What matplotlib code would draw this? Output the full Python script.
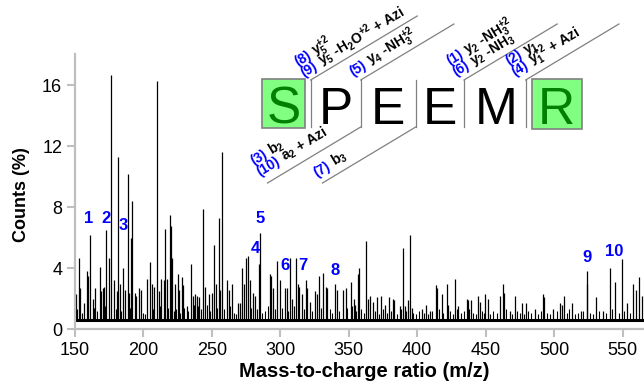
import matplotlib
matplotlib.use('Agg')
import matplotlib.pyplot as plt
import numpy as np

plt.rcParams['font.family'] = ['Liberation Sans', 'DejaVu Sans']
plt.rcParams['mathtext.fontset'] = 'custom'
plt.rcParams['mathtext.rm'] = 'Liberation Sans:bold'
plt.rcParams['mathtext.it'] = 'Liberation Sans:bold'
plt.rcParams['mathtext.bf'] = 'Liberation Sans:bold'
plt.rcParams['mathtext.default'] = 'rm'

# spectrum peaks (m/z, counts %)
peak_mz = [150.7, 153.1, 153.9, 157.0, 158.7, 159.7, 161.4, 163.1, 165.0, 168.2,
           169.4, 170.4, 171.6, 173.1, 175.3, 176.7, 178.9, 180.6, 181.8, 183.3,
           185.0, 186.9, 188.9, 189.6, 191.1, 192.0, 193.8, 195.0, 197.2, 198.4,
           203.0, 205.2, 206.6, 208.0, 210.1, 211.8, 213.2, 214.9, 216.1, 217.6,
           219.3, 220.1, 221.3, 223.5, 225.2, 226.4, 228.1, 229.3, 231.8, 234.8,
           236.5, 238.0, 239.5, 241.0, 243.4, 245.0, 248.3, 250.0, 251.5, 253.0,
           255.1, 256.3, 257.7, 260.9, 262.4, 264.6, 269.5, 270.7, 272.1, 273.8,
           275.0, 276.3, 277.9, 280.4, 281.6, 284.8, 285.3, 292.6, 293.3, 294.5,
           297.9, 299.8, 303.5, 305.0, 307.2, 308.4, 311.3, 312.8, 314.0, 315.7,
           318.6, 319.3, 321.8, 325.4, 327.2, 328.6, 331.5, 333.2, 334.4, 340.0,
           341.2, 345.5, 347.9, 351.6, 353.5, 354.4, 356.6, 357.8, 362.9, 363.7,
           365.6, 367.8, 370.3, 373.6, 376.8, 379.7, 382.2, 383.4, 387.5, 389.6,
           390.8, 393.0, 394.7, 395.9, 403.2, 406.3, 409.3, 413.5, 414.7, 417.9,
           421.5, 422.8, 427.8, 430.0, 436.1, 437.3, 439.3, 444.6, 445.8, 449.7,
           451.4, 460.4, 462.9, 463.6, 467.8, 471.4, 476.6, 479.5, 486.0, 491.6,
           492.6, 499.4, 504.3, 505.3, 507.2, 512.8, 519.6, 523.7, 524.2, 530.5,
           535.9, 540.7, 544.4, 549.3, 552.9, 557.7, 559.6, 561.9, 563.9]
peak_int = [2.3, 4.7, 2.7, 1.7, 3.8, 3.5, 6.2, 2.0, 2.7, 4.1,
            2.5, 2.7, 2.8, 6.5, 4.7, 16.7, 3.2, 2.5, 11.3, 3.0,
            4.0, 2.6, 10.2, 2.4, 6.0, 8.4, 2.4, 2.2, 2.7, 2.6,
            3.3, 4.4, 3.0, 2.8, 16.3, 2.5, 3.3, 3.2, 6.6, 3.3,
            7.5, 6.8, 4.7, 3.0, 3.6, 2.6, 3.4, 2.9, 1.5, 4.3,
            2.2, 2.3, 2.2, 2.1, 7.9, 2.8, 2.3, 2.4, 5.5, 3.0,
            7.3, 2.6, 11.6, 3.2, 2.6, 3.0, 1.7, 1.7, 4.0, 3.0,
            4.7, 4.8, 3.2, 2.4, 2.2, 4.3, 6.3, 3.6, 3.5, 2.7,
            4.5, 3.2, 2.7, 2.7, 4.7, 2.0, 4.7, 3.0, 2.8, 2.3,
            3.2, 2.7, 1.8, 2.5, 2.3, 3.5, 3.7, 2.8, 2.7, 3.0,
            2.6, 2.6, 2.7, 3.1, 2.0, 1.6, 3.6, 4.0, 5.8, 2.0,
            2.2, 1.8, 2.1, 2.2, 1.6, 2.1, 2.0, 1.9, 1.5, 5.3,
            1.5, 1.9, 6.2, 1.4, 1.3, 1.6, 1.2, 2.9, 2.7, 2.3,
            3.0, 1.6, 3.3, 1.5, 2.0, 1.9, 1.9, 2.2, 1.8, 2.3,
            2.0, 2.2, 3.0, 2.4, 1.2, 2.2, 1.7, 1.7, 1.3, 2.3,
            2.1, 1.3, 1.7, 1.6, 2.2, 1.7, 1.2, 3.0, 3.8, 2.1,
            1.2, 4.0, 3.1, 4.6, 1.7, 3.0, 2.6, 3.4, 2.2]

# small noise peaks along the baseline
noise_mz = [152.0, 155.5, 164.0, 166.5, 172.0, 180.0, 184.0, 190.0, 199.5, 201.5,
            207.5, 212.5, 218.0, 222.5, 224.0, 227.0, 230.0, 233.0, 237.0, 240.0,
            242.0, 246.5, 249.0, 254.0, 259.0, 263.0, 266.0, 268.0, 271.0, 279.0,
            283.0, 287.0, 289.0, 291.0, 296.0, 301.0, 306.0, 310.0, 317.0, 323.0,
            330.0, 336.0, 338.0, 343.0, 349.0, 352.5, 355.5, 359.0, 361.0, 369.0,
            372.0, 375.0, 378.0, 381.0, 385.0, 388.5, 392.0, 397.0, 399.0, 401.0,
            405.0, 408.0, 411.0, 416.0, 419.0, 424.0, 426.0, 429.0, 432.0, 434.0,
            438.0, 441.0, 443.0, 447.0, 448.5, 453.0, 455.0, 458.0, 465.0, 469.0,
            473.0, 475.0, 478.0, 481.0, 483.0, 488.0, 490.0, 495.0, 497.0, 502.0,
            509.0, 511.0, 515.0, 517.0, 521.0, 526.0, 528.0, 533.0, 538.0, 542.0,
            547.0, 551.0, 555.0]
noise_int = [1.3, 1.1, 1.4, 1.2, 1.5, 1.3, 1.2, 1.4, 1.1, 1.0,
             1.3, 1.5, 1.4, 1.2, 1.3, 1.1, 1.4, 1.2, 1.6, 1.5,
             1.3, 1.6, 1.2, 1.4, 1.3, 1.5, 1.1, 1.0, 1.2, 1.4,
             1.3, 1.1, 1.2, 1.5, 1.3, 1.4, 1.2, 1.5, 1.3, 1.2,
             1.4, 1.3, 1.1, 1.2, 1.4, 1.5, 1.2, 1.3, 1.1, 1.2,
             1.0, 1.3, 1.1, 1.2, 1.0, 1.3, 1.2, 1.1, 1.0, 1.2,
             1.1, 1.0, 1.2, 1.3, 1.1, 1.2, 1.0, 1.3, 1.1, 1.2,
             1.3, 1.1, 1.0, 1.2, 1.1, 1.0, 1.2, 1.1, 1.3, 1.0,
             1.2, 1.1, 1.0, 1.2, 1.1, 1.0, 1.2, 1.1, 1.0, 1.2,
             1.1, 1.3, 1.0, 1.1, 1.2, 1.1, 1.0, 1.2, 1.1, 1.3,
             1.1, 1.2, 1.1]
baseline = 0.62

# numbered fragment peaks
label_text = ['1', '2', '3', '4', '5', '6', '7', '8', '9', '10']
label_mz = [160.4, 172.8, 185.2, 281.9, 285.6, 303.8, 316.2, 340.3, 524.2, 544.0]
label_h = [7.28, 7.28, 6.8, 5.31, 7.28, 4.2, 4.2, 3.87, 4.72, 5.1]

xticks = [150, 200, 250, 300, 350, 400, 450, 500, 550]
yticks = [0, 4, 8, 12, 16]

# peptide sequence and fragment annotations
sequence = ['S', 'P', 'E', 'E', 'M', 'R']
modified = [True, False, False, False, False, True]
top_groups = [
    [('(9)', r'y$_5$ -H$_2$O$^{+2}$ + Azi'), ('(8)', r'y$_5^{+2}$')],
    [('(5)', r'y$_4$ -NH$_3^{+2}$')],
    [('(6)', r'y$_2$ -NH$_3$'), ('(1)', r'y$_2$ -NH$_3^{+2}$')],
    [('(4)', r'y$_1^{+2}$ + Azi'), ('(2)', r'y$_1$')],
]
bottom_groups = [
    [('(10)', r'a$_2$ + Azi'), ('(3)', r'b$_2$')],
    [('(7)', r'b$_3$')],
]

fig = plt.figure(figsize=(6.44, 3.85), dpi=100)
ax = fig.add_axes([74.7 / 644, (385 - 329.3) / 385, (644 - 74.7) / 644, (329.3 - 54) / 385])

ax.vlines(noise_mz, baseline, noise_int, color='black', lw=0.8)
ax.vlines(peak_mz, baseline, peak_int, color='black', lw=0.9)
ax.plot([150, 566], [baseline, baseline], color='black', lw=2.2)

for t, m, h in zip(label_text, label_mz, label_h):
    ax.text(m, h, t, color='#0000ff', fontsize=12, fontweight='bold',
            ha='center', va='center')

ax.set_xlim(150, 565.5)
ax.set_ylim(0, 18.05)
ax.set_xticks(xticks)
ax.set_yticks(yticks)
for s in ['top', 'right']:
    ax.spines[s].set_visible(False)
for s in ['left', 'bottom']:
    ax.spines[s].set_color('#bfbfbf')
    ax.spines[s].set_linewidth(1.6)
ax.tick_params(direction='out', length=6, width=1.5, color='#bfbfbf',
               labelsize=13, labelcolor='black', pad=3)
ax.set_xlabel('Mass-to-charge ratio (m/z)', fontsize=14.5, fontweight='bold')
ax.set_ylabel('Counts (%)', fontsize=13, fontweight='bold')
ax.xaxis.set_label_coords(0.508, -0.155)
ax.xaxis.label.set_va('center')
ax.yaxis.set_label_coords(-0.0926, 0.488)
ax.yaxis.label.set_va('center')

# overlay in pixel units (y down) for the sequence diagram
ov = fig.add_axes([0, 0, 1, 1])
ov.set_xlim(0, 644)
ov.set_ylim(385, 0)
ov.axis('off')
ov.patch.set_alpha(0)

letter_x = [283.3, 336.0, 388.0, 440.0, 496.5, 556.7]
boxes = [(261.7, 79, 43.3, 49), (531.7, 78.5, 50, 50)]
bi = 0
for ch, cx, mod in zip(sequence, letter_x, modified):
    if mod:
        bx, by, bw, bh = boxes[bi]
        bi += 1
        ov.add_patch(plt.Rectangle((bx, by), bw, bh, facecolor='#80ff80',
                                   edgecolor='#808080', lw=1.2))
    ov.text(cx, 123.5, ch, fontsize=37, ha='center', va='baseline',
            color='#008000' if mod else 'black')

sep_x = [310.7, 360.7, 415.7, 464.0, 525.7]
for sx in sep_x:
    ov.plot([sx, sx], [80, 127], color='#808080', lw=0.9)

ang = 31.0
ca, sa = np.cos(np.radians(ang)), np.sin(np.radians(ang))
slope = sa / ca
fs = 10

# top diagonals start at separator tops
top_sep = [310.7, 360.7, 464.0, 525.7]
top_len_y = [64, 56, 56, 56]
for sx, dy in zip(top_sep, top_len_y):
    ov.plot([sx, sx + dy / slope], [80, 80 - dy], color='#808080', lw=0.9)
# bottom diagonals go down-left from separator bottoms
bot_sep = [360.7, 415.7]
for sx in bot_sep:
    ov.plot([sx, sx - 56 / slope], [127, 183], color='#808080', lw=0.9)

renderer = fig.canvas.get_renderer()


def width_px(s):
    t = fig.text(0, 0, s + ' ', fontsize=fs, fontweight='bold')
    w = t.get_window_extent(renderer).width
    t.remove()
    return w


def draw_group(group, bx, by):
    lead = 12
    for k, (num, rest) in enumerate(group):
        px = bx - k * lead * sa
        py = by - k * lead * ca
        ov.text(px, py, num, color='#0000ff', fontsize=fs, fontweight='bold',
                rotation=ang, rotation_mode='anchor', ha='left', va='baseline')
        w = width_px(num)
        ov.text(px + w * ca, py - w * sa, rest, color='black', fontsize=fs,
                fontweight='bold', rotation=ang, rotation_mode='anchor',
                ha='left', va='baseline')


top_base = [(304, 77), (353, 76), (456, 76), (515, 76)]
for g, (bx, by) in zip(top_groups, top_base):
    draw_group(g, bx, by)
bot_base = [(260, 176), (317, 177)]
for g, (bx, by) in zip(bottom_groups, bot_base):
    draw_group(g, bx, by)

fig.savefig('out.png', dpi=100)
